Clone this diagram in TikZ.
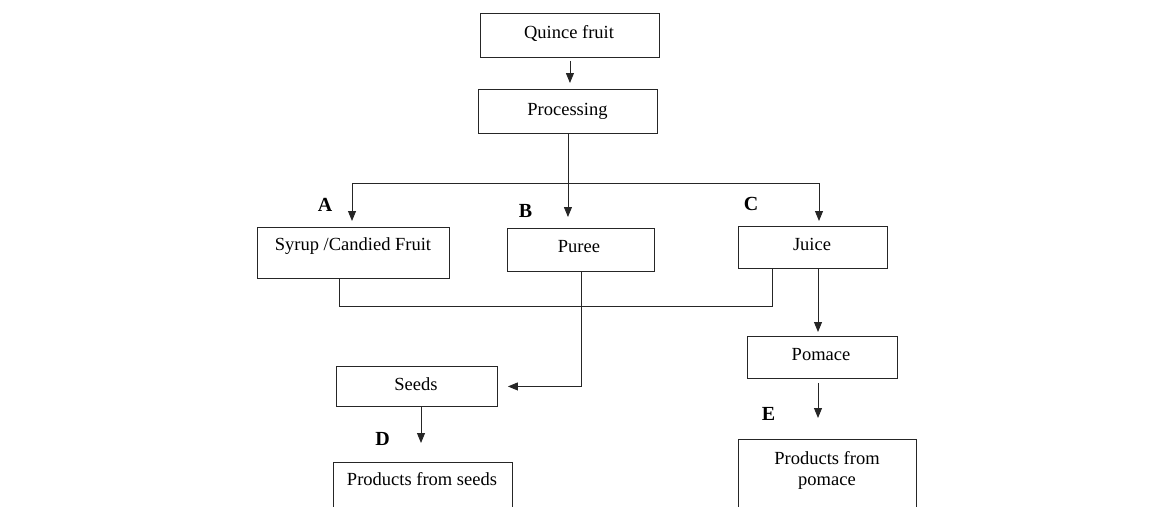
\documentclass[tikz,border=0pt]{standalone}
\usepackage{fontspec}
\setmainfont{Liberation Serif}
\usetikzlibrary{arrows.meta}
\begin{document}
\begin{tikzpicture}[x=1pt,y=-1pt,
  box/.style={draw=black!85, line width=0.9pt, inner sep=0pt, anchor=north west},
  txt/.style={anchor=base, inner sep=0pt, font=\fontsize{18.5}{22}\selectfont},
  lab/.style={anchor=base, inner sep=0pt, font=\fontsize{20}{24}\selectfont\bfseries},
  ln/.style={draw=black!85, line width=0.9pt},
  arr/.style={ln, -{Triangle[length=10pt,width=8pt]}}]
\useasboundingbox (0,0) rectangle (1156,506);
\clip (0,0) rectangle (1156,506);
% boxes
\node[box, minimum width=179pt, minimum height=44pt] (quince) at (480,13) {};
\node[box, minimum width=179pt, minimum height=44pt] (processing) at (478,89) {};
\node[box, minimum width=192pt, minimum height=51pt] (syrup) at (257,227) {};
\node[box, minimum width=147pt, minimum height=43pt] (puree) at (507,228) {};
\node[box, minimum width=149pt, minimum height=42pt] (juice) at (738,226) {};
\node[box, minimum width=150pt, minimum height=42pt] (pomace) at (747,336) {};
\node[box, minimum width=161pt, minimum height=40pt] (seeds) at (336,366) {};
\node[box, minimum width=179pt, minimum height=70pt] (prodseeds) at (333,462) {};
\node[box, minimum width=178pt, minimum height=90pt] (prodpomace) at (738,439) {};
% texts
\node[txt] (tquince) at (569,38.5) {Quince fruit};
\node[txt] (tprocessing) at (567.5,115) {Processing};
\node[txt] (tsyrup) at (353,250.7) {Syrup /Candied Fruit};
\node[txt] (tpuree) at (579,252.7) {Puree};
\node[txt] (tjuice) at (812,250.7) {Juice};
\node[txt] (tpomace) at (821,360.7) {Pomace};
\node[txt] (tseeds) at (416,390) {Seeds};
\node[txt] (tprodseeds) at (422,485.7) {Products from seeds};
\node[txt] (tprodpomace1) at (827,464) {Products from};
\node[txt] (tprodpomace2) at (827,485.5) {pomace};
% letters
\node[lab] (la) at (325,211.7) {A};
\node[lab] (lb) at (525.5,217.3) {B};
\node[lab] (lc) at (751,210.7) {C};
\node[lab] (ld) at (382.5,445) {D};
\node[lab] (le) at (768.5,420) {E};
% connectors
\draw[arr, shorten <=3pt, shorten >=6pt] (quince.south) -- (quince.south |- processing.north);
\coordinate (jA) at (352,183);
\coordinate (jC) at (819,183);
\draw[ln] (jA) -- (jC);
\draw[arr, shorten >=6pt] (jA) -- (jA |- syrup.north);
\draw[arr, shorten >=5pt] (jC) -- (jC |- juice.north);
\draw[arr, shorten >=11pt] (processing.south) -- (processing.south |- puree.north);
\coordinate (jS) at (339,306);
\coordinate (jJ) at (772,306);
\draw[ln] (jS |- syrup.south) -- (jS) -- (jJ) -- (jJ |- juice.south);
\draw[arr, shorten >=10pt] (puree.south) |- (seeds.east);
\coordinate (jP) at (818,300);
\draw[arr, shorten >=4pt] (juice.south -| jP) -- (pomace.north -| jP);
\draw[arr, shorten <=4pt, shorten >=21pt] (pomace.south -| jP) -- (prodpomace.north -| jP);
\coordinate (jD) at (421,420);
\draw[arr, shorten >=19pt] (seeds.south -| jD) -- (prodseeds.north -| jD);
\end{tikzpicture}
\end{document}
